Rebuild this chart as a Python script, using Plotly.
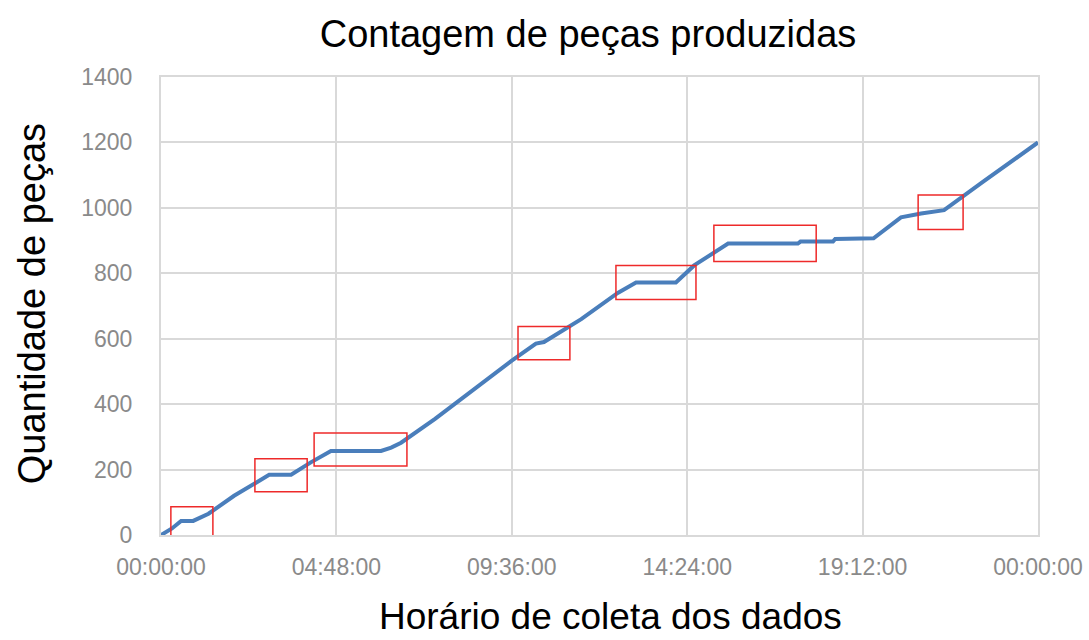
import pandas as pd
import plotly.graph_objects as go

# hours since 00:00 and cumulative piece count
hours = [0, 0.3, 0.55, 0.88, 1.3, 2.0, 2.6, 2.96, 3.56, 4.1, 4.65, 6.02, 6.3, 6.57,
         7.5, 8.5, 9.6, 10.26, 10.48, 11.5, 12.5, 13.0, 14.09, 14.59, 15.52, 17.43,
         17.5, 18.39, 18.45, 19.5, 20.25, 20.8, 21.43, 22.5, 24]
pecas = [0, 20, 43, 43, 65, 120, 160, 184, 184, 222, 257, 257, 267, 282,
         355, 440, 533, 585, 590, 660, 740, 772, 772, 824, 891, 891,
         897, 897, 905, 907, 971, 983, 993, 1080, 1200]

# highlighted plateaus (hours / pieces)
box_x0 = [0.27, 2.57, 4.19, 9.77, 12.45, 15.13, 20.72]
box_x1 = [1.42, 4.00, 6.73, 11.19, 14.64, 17.93, 21.95]
box_y0 = [-3, 132, 211, 536, 720, 836, 934]
box_y1 = [86, 233, 312, 637, 824, 947, 1039]

base = pd.Timestamp("2023-01-01 00:00:00")
to_time = lambda h: base + pd.Timedelta(hours=h)
x = [to_time(h) for h in hours]

fig = go.Figure()
fig.add_trace(go.Scatter(x=x, y=pecas, mode="lines",
                         line=dict(color="#4A7EBB", width=4), showlegend=False))

for x0, x1, y0, y1 in zip(box_x0, box_x1, box_y0, box_y1):
    fig.add_shape(type="rect", xref="x", yref="y",
                  x0=to_time(x0), x1=to_time(x1), y0=y0, y1=y1,
                  line=dict(color="#EE2A2A", width=1.5))

grid = "#D9D9D9"
tickfont = dict(family="Liberation Sans, Arial", size=23, color="#8A8A8A")

fig.update_layout(
    width=1089, height=640,
    margin=dict(l=161, r=51, t=77, b=105),
    paper_bgcolor="white", plot_bgcolor="white",
    font=dict(family="Liberation Sans, Arial", color="black"),
    title=dict(text="Contagem de peças produzidas", x=588 / 1089, xanchor="center",
               y=1 - 34 / 640, yanchor="middle", yref="container",
               font=dict(size=38, color="black")),
)

fig.update_xaxes(
    range=[to_time(0), to_time(24)], automargin=False,
    tick0=to_time(0), dtick=4.8 * 3600 * 1000, tickformat="%H:%M:%S",
    showgrid=True, gridcolor=grid, gridwidth=2,
    showline=True, linecolor=grid, linewidth=2, mirror=True,
    ticks="", tickfont=tickfont, ticklabelstandoff=10,
)
fig.update_yaxes(
    range=[0, 1400], dtick=200, automargin=False,
    showgrid=True, gridcolor=grid, gridwidth=2, zeroline=False,
    showline=True, linecolor=grid, linewidth=2, mirror=True,
    ticks="", tickfont=tickfont, ticklabelstandoff=22,
)

# axis titles as annotations so they sit where the original has them
fig.add_annotation(text="Horário de coleta dos dados", xref="paper", yref="paper",
                   x=0.512, y=-0.178, xanchor="center", yanchor="middle",
                   showarrow=False, font=dict(size=37, color="black"))
fig.add_annotation(text="Quantidade de peças", xref="paper", yref="paper",
                   x=-0.147, y=0.504, xanchor="center", yanchor="middle",
                   textangle=-90, showarrow=False, font=dict(size=38, color="black"))

# drop the browser's default body margin so the figure sits at the page corner
fig.write_html("out.html", config={"displayModeBar": False},
               post_script="document.body.style.margin='0';")
